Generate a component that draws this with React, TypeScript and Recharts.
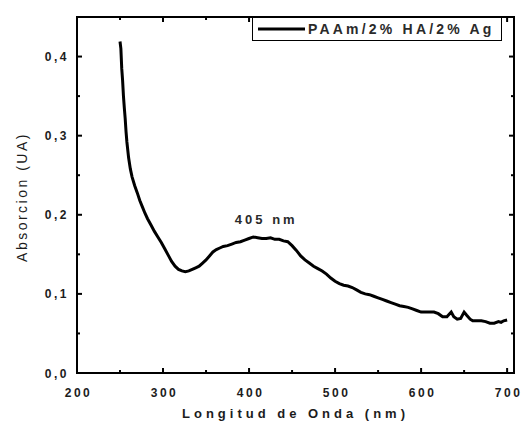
import React from 'react';
import { LineChart, Line, XAxis, YAxis, Legend, ReferenceDot } from 'recharts';

const WAVELENGTHS = [
  250, 251, 252, 253, 254, 255, 256, 257, 258, 260, 262, 264, 267, 270, 273, 276, 279, 282, 286, 290,
  294, 298, 302, 306, 310, 314, 318, 322, 326, 330, 334, 338, 342, 346, 350, 354, 358, 362, 366, 370,
  375, 380, 385, 390, 395, 400, 405, 410, 415, 420, 425, 430, 435, 440, 445, 450, 455, 460, 465, 470,
  475, 480, 485, 490, 495, 500, 505, 510, 515, 520, 525, 530, 535, 540, 545, 550, 555, 560, 565, 570,
  575, 580, 585, 590, 595, 600, 605, 610, 615, 620, 625, 630, 635, 638, 642, 646, 650, 653, 657, 660,
  665, 670, 675, 680, 685, 690, 693, 696, 700,
];
const ABSORBANCE = [
  0.419, 0.41, 0.385, 0.37, 0.35, 0.335, 0.322, 0.305, 0.292, 0.272, 0.258, 0.248, 0.237, 0.228, 0.218, 0.21, 0.202, 0.195, 0.187, 0.179,
  0.172, 0.165, 0.157, 0.149, 0.141, 0.135, 0.131, 0.129, 0.128, 0.129, 0.131, 0.133, 0.135, 0.139, 0.143, 0.148, 0.153, 0.156, 0.158, 0.16,
  0.161, 0.163, 0.165, 0.166, 0.168, 0.17, 0.172, 0.171, 0.17, 0.17, 0.171, 0.169, 0.169, 0.167, 0.166, 0.161, 0.155, 0.148, 0.143, 0.139,
  0.135, 0.132, 0.129, 0.125, 0.12, 0.116, 0.113, 0.111, 0.11, 0.108, 0.105, 0.102, 0.1, 0.099, 0.097, 0.095, 0.093, 0.091, 0.089, 0.087,
  0.085, 0.084, 0.083, 0.081, 0.079, 0.077, 0.077, 0.077, 0.077, 0.075, 0.071, 0.071, 0.077, 0.071, 0.068, 0.069, 0.077, 0.073, 0.068, 0.066,
  0.066, 0.066, 0.065, 0.063, 0.063, 0.065, 0.064, 0.066, 0.067,
];
const SERIES_NAME = 'PAAm/2% HA/2% Ag';
const X_DOMAIN = [200, 708];
const Y_DOMAIN = [0, 0.45];
const X_TICKS = [200, 250, 300, 350, 400, 450, 500, 550, 600, 650, 700];
const X_MAJOR = [200, 300, 400, 500, 600, 700];
const Y_TICKS = [0, 0.05, 0.1, 0.15, 0.2, 0.25, 0.3, 0.35, 0.4];
const Y_MAJOR_LABELS: Record<string, string> = { '0': '0,0', '0.1': '0,1', '0.2': '0,2', '0.3': '0,3', '0.4': '0,4' };
const X_TITLE = 'Longitud de Onda (nm)';
const Y_TITLE = 'Absorcion (UA)';
const PEAK_LABEL = '405 nm';
const PEAK_LABEL_POS = { wl: 420, v: 0.194 };

const data = WAVELENGTHS.map((wl, i) => ({ wl, v: ABSORBANCE[i] }));

const CHART_W = 521;
const CHART_H = 427;
const MARGIN = { top: 17, right: 7, left: 0, bottom: 0 };
const Y_AXIS_W = 77;
const X_AXIS_H = 54;
const PLOT_W = CHART_W - MARGIN.left - MARGIN.right - Y_AXIS_W;
const PLOT_H = CHART_H - MARGIN.top - MARGIN.bottom - X_AXIS_H;

const FONT = '"Liberation Sans", Arial, sans-serif';
const TEXT_FILL = '#1c1c1c';

const isYMajor = (v: number) => Math.round(v * 100) % 10 === 0;

const BottomTick = (props: any) => {
  const { x, y, payload } = props;
  const major = X_MAJOR.includes(payload.value);
  const len = major ? 5 : 3;
  return (
    <g>
      <line x1={x} x2={x} y1={y} y2={y - len} stroke="#000" strokeWidth={2} />
      <line x1={x} x2={x} y1={y - PLOT_H} y2={y - PLOT_H + len} stroke="#000" strokeWidth={2} />
      {major && (
        <text x={x + 1.5} y={y + 24} textAnchor="middle" fontFamily={FONT} fontSize={12} fontWeight="bold" letterSpacing={2.5} fill={TEXT_FILL}>
          {payload.value}
        </text>
      )}
    </g>
  );
};

const LeftTick = (props: any) => {
  const { x, y, payload } = props;
  const major = isYMajor(payload.value);
  const len = major ? 5 : 3;
  const label = Y_MAJOR_LABELS[String(Math.round(payload.value * 10) / 10)];
  return (
    <g>
      <line x1={x} x2={x + len} y1={y} y2={y} stroke="#000" strokeWidth={2} />
      <line x1={x + PLOT_W} x2={x + PLOT_W - len} y1={y} y2={y} stroke="#000" strokeWidth={2} />
      {major && (
        <text x={x - 8} y={y + 4.5} textAnchor="end" fontFamily={FONT} fontSize={12} fontWeight="bold" letterSpacing={2.5} fill={TEXT_FILL}>
          {label}
        </text>
      )}
    </g>
  );
};

const YTitle = (props: any) => {
  const vb = props.viewBox || { x: 0, y: MARGIN.top, width: Y_AXIS_W, height: PLOT_H };
  const cx = vb.x + 22;
  const cy = vb.y + vb.height / 2 + 2;
  return (
    <text
      x={cx}
      y={cy}
      transform={`rotate(-90, ${cx}, ${cy})`}
      textAnchor="middle"
      dominantBaseline="central"
      fontFamily={FONT}
      fontSize={14}
      letterSpacing={2.5}
      fill={TEXT_FILL}
    >
      {Y_TITLE}
    </text>
  );
};

const XTitle = (props: any) => {
  const vb = props.viewBox || { x: Y_AXIS_W, y: MARGIN.top + PLOT_H, width: PLOT_W, height: X_AXIS_H };
  const cx = vb.x + vb.width / 2;
  return (
    <text x={cx} y={vb.y + 45} textAnchor="middle" fontFamily={FONT} fontSize={13} fontWeight="bold" letterSpacing={4} fill={TEXT_FILL}>
      {X_TITLE}
    </text>
  );
};

const LegendBox = (props: any) => {
  const entry = props.payload ? props.payload.find((p: any) => p.value === SERIES_NAME) : null;
  const name = entry ? entry.value : SERIES_NAME;
  return (
    <div
      style={{
        boxSizing: 'border-box',
        width: 250,
        height: 24,
        border: '1.5px solid #000',
        background: '#fff',
        display: 'flex',
        alignItems: 'center',
      }}
    >
      <svg width={52} height={10} style={{ display: 'block' }}>
        <line x1={5} x2={52} y1={5} y2={5} stroke="#000" strokeWidth={3} />
      </svg>
      <span
        style={{
          fontFamily: FONT,
          fontSize: 14,
          fontWeight: 'bold',
          letterSpacing: 3.2,
          color: '#2a2a2a',
          marginLeft: 3,
          whiteSpace: 'nowrap',
          lineHeight: '20px',
        }}
      >
        {name}
      </span>
    </div>
  );
};

export default function App() {
  return (
    <div style={{ position: 'absolute', left: 0, top: 0, width: CHART_W, height: CHART_H, background: '#fff' }}>
      <LineChart width={CHART_W} height={CHART_H} data={data} margin={MARGIN}>
        <XAxis
          dataKey="wl"
          type="number"
          domain={X_DOMAIN}
          ticks={X_TICKS}
          interval={0}
          height={X_AXIS_H}
          tickSize={0}
          tickMargin={0}
          tickLine={false}
          axisLine={{ stroke: '#000', strokeWidth: 2 }}
          tick={<BottomTick />}
          allowDataOverflow
          label={<XTitle />}
        />
        <YAxis
          type="number"
          domain={Y_DOMAIN}
          ticks={Y_TICKS}
          interval={0}
          width={Y_AXIS_W}
          tickSize={0}
          tickMargin={0}
          tickLine={false}
          axisLine={{ stroke: '#000', strokeWidth: 2 }}
          tick={<LeftTick />}
          allowDataOverflow
          label={<YTitle />}
        />
        <Legend
          layout="horizontal"
          verticalAlign="middle"
          align="center"
          content={<LegendBox />}
          wrapperStyle={{ position: 'absolute', top: 17, left: 252, width: 250, height: 24 }}
        />
        <ReferenceDot
          x={PEAK_LABEL_POS.wl}
          y={PEAK_LABEL_POS.v}
          r={0}
          fill="none"
          stroke="none"
          label={{
            value: PEAK_LABEL,
            position: 'center',
            fontFamily: FONT,
            fontSize: 13,
            fontWeight: 'bold',
            letterSpacing: 3,
            fill: '#2a2a2a',
          }}
        />
        <Line
          type="linear"
          dataKey="v"
          name={SERIES_NAME}
          stroke="#000"
          strokeWidth={3}
          dot={false}
          isAnimationActive={false}
          legendType="line"
        />
      </LineChart>
      <div
        style={{
          position: 'absolute',
          left: MARGIN.left + Y_AXIS_W - 1,
          top: MARGIN.top - 1,
          width: PLOT_W + 2,
          height: PLOT_H + 2,
          boxSizing: 'border-box',
          border: '2px solid #000',
          pointerEvents: 'none',
        }}
      />
    </div>
  );
}
